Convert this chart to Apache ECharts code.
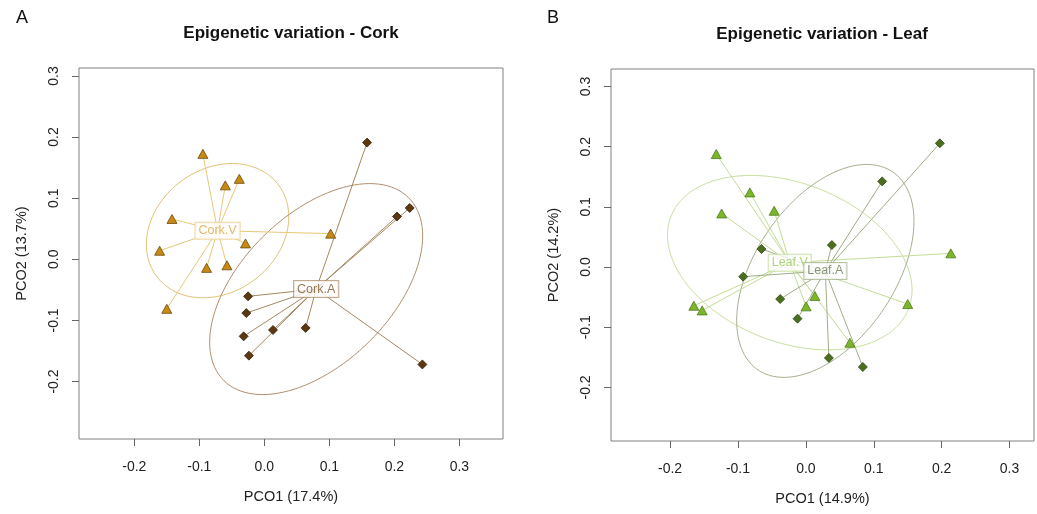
<!DOCTYPE html>
<html><head><meta charset="utf-8">
<script src="https://cdn.jsdelivr.net/npm/echarts@6/dist/echarts.min.js"></script>
<style>html,body{margin:0;padding:0;background:#fff}#c{width:1037px;height:514px}</style>
</head><body><div id="c"></div>
<script>
// ---- data ----
const tickValues = [-0.2, -0.1, 0.0, 0.1, 0.2, 0.3];
const panelTitles = ['Epigenetic variation - Cork', 'Epigenetic variation - Leaf'];
const panelLetters = ['A', 'B'];
const xNames = ['PCO1 (17.4%)', 'PCO1 (14.9%)'];
const yNames = ['PCO2 (13.7%)', 'PCO2 (14.2%)'];

const corkV_x = [-0.0945, -0.060, -0.0385, -0.142, -0.161, -0.029, -0.0888, -0.0575, -0.150, 0.102];
const corkV_y = [0.1725, 0.121, 0.1316, 0.066, 0.014, 0.026, -0.014, -0.0098, -0.081, 0.042];
const corkA_x = [0.158, 0.2235, 0.204, -0.025, -0.0277, -0.0318, 0.0133, 0.0635, -0.0237, 0.243];
const corkA_y = [0.191, 0.084, 0.070, -0.0606, -0.088, -0.126, -0.1156, -0.1123, -0.1576, -0.172];
const leafV_x = [-0.132, -0.0825, -0.124, -0.0467, 0.2135, -0.165, -0.1527, 0.0133, 0.0004, 0.150, 0.0648];
const leafV_y = [0.1877, 0.124, 0.089, 0.0935, 0.0227, -0.0643, -0.072, -0.048, -0.0653, -0.0615, -0.1257];
const leafA_x = [0.1973, 0.1124, 0.0383, -0.0654, -0.0923, -0.0378, -0.0123, 0.0339, 0.0839];
const leafA_y = [0.2055, 0.1423, 0.0365, 0.0299, -0.016, -0.0532, -0.0858, -0.151, -0.166];

// ---- styling ----
const FONT = '"Liberation Sans", Arial, sans-serif';
const groups = [
  {name:'Cork.V', panel:0, xs:corkV_x, ys:corkV_y, symbol:'triangle', size:[10,9], fill:'#C98A12', border:'#6B4A0A', line:'#E8C878', ell:'#E2C275', text:'#D9A843', box:'#E8CD8E'},
  {name:'Cork.A', panel:0, xs:corkA_x, ys:corkA_y, symbol:'diamond', size:[9,9], fill:'#5C3810', border:'#3A220A', line:'#A58860', ell:'#B09070', text:'#7B5628', box:'#B39270'},
  {name:'Leaf.V', panel:1, xs:leafV_x, ys:leafV_y, symbol:'triangle', size:[10,9], fill:'#7DB52B', border:'#4F7D1C', line:'#C3DD98', ell:'#C8E0A0', text:'#9BCB5C', box:'#C3DD98'},
  {name:'Leaf.A', panel:1, xs:leafA_x, ys:leafA_y, symbol:'diamond', size:[9,9], fill:'#4B6F1F', border:'#2F4A12', line:'#A1AD87', ell:'#A7B08F', text:'#6C7C55', box:'#A6B38E'}
];

const grids = [
  {left:79, top:68, width:424, height:371},
  {left:611, top:69, width:423, height:372}
];
const xRanges = [[-0.285, 0.367], [-0.287, 0.336]];
const yRanges = [[-0.294, 0.313], [-0.289, 0.329]];

// ---- derived: centroid and 1.5-sd ellipse (as in ade4 s.class) ----
function mean(a){ return a.reduce((s,v)=>s+v,0)/a.length; }
function ellipsePts(xs, ys, k){
  const mx = mean(xs), my = mean(ys), n = xs.length;
  let a=0,b=0,c=0;
  for(let i=0;i<n;i++){ const dx=xs[i]-mx, dy=ys[i]-my; a+=dx*dx; b+=dx*dy; c+=dy*dy; }
  a/=n; b/=n; c/=n;
  const sa = Math.sqrt(a), l21 = b/sa, l22 = Math.sqrt(Math.max(c - l21*l21, 0));
  const pts = [];
  for(let j=0;j<=120;j++){
    const t = 2*Math.PI*j/120, ct=Math.cos(t), st=Math.sin(t);
    pts.push([mx + k*sa*ct, my + k*(l21*ct + l22*st)]);
  }
  return pts;
}

const axisCommon = {
  type:'value', splitLine:{show:false},
  axisLine:{show:false, onZero:false},
  axisTick:{show:true, length:7, inside:false, customValues:tickValues, lineStyle:{color:'#666', width:1}},
  axisLabel:{customValues:tickValues, formatter:v=>v.toFixed(1), color:'#222', fontSize:14, fontFamily:FONT},
  nameLocation:'middle', nameTextStyle:{color:'#222', fontSize:14.5, fontFamily:FONT}
};

const xAxes = [0,1].map(p => Object.assign({}, axisCommon, {
  gridIndex:p, min:xRanges[p][0], max:xRanges[p][1], name:xNames[p], nameGap:50, position:'bottom',
  axisLabel:Object.assign({}, axisCommon.axisLabel, {margin:21})
}));
const yAxes = [0,1].map(p => Object.assign({}, axisCommon, {
  gridIndex:p, min:yRanges[p][0], max:yRanges[p][1], name:yNames[p], nameGap:50, position:'left',
  axisLabel:Object.assign({}, axisCommon.axisLabel, {rotate:90, margin:18})
}));

const series = [];
groups.forEach((g, gi) => {
  const cx = mean(g.xs), cy = mean(g.ys);
  series.push({
    type:'line', xAxisIndex:g.panel, yAxisIndex:g.panel, data:ellipsePts(g.xs, g.ys, 1.5),
    showSymbol:false, symbol:'none', smooth:false, silent:true, z:1,
    lineStyle:{color:g.ell, width:1}
  });
  series.push({
    type:'lines', coordinateSystem:'cartesian2d', xAxisIndex:g.panel, yAxisIndex:g.panel, silent:true, z:2,
    lineStyle:{color:g.line, width:1, opacity:1, curveness:0},
    data:g.xs.map((x,i)=>({coords:[[cx,cy],[x,g.ys[i]]]}))
  });
});
groups.forEach(g => {
  series.push({
    type:'scatter', xAxisIndex:g.panel, yAxisIndex:g.panel, symbol:g.symbol, symbolSize:g.size, z:3, silent:true,
    itemStyle:{color:g.fill, borderColor:g.border, borderWidth:0.8, opacity:1},
    data:g.xs.map((x,i)=>[x, g.ys[i]])
  });
});
groups.forEach(g => {
  const cx = mean(g.xs), cy = mean(g.ys);
  series.push({
    type:'scatter', xAxisIndex:g.panel, yAxisIndex:g.panel, symbol:'circle', symbolSize:0.1, z:5, silent:true,
    itemStyle:{color:'rgba(0,0,0,0)'},
    label:{show:true, position:'inside', formatter:g.name, color:g.text, fontSize:12.5, fontFamily:FONT,
      backgroundColor:'#fff', borderColor:g.box, borderWidth:1, padding:[2,3,1,3]},
    data:[[cx, cy]]
  });
});

const chart = echarts.init(document.getElementById('c'), null, {renderer:'canvas'});
chart.setOption({
  animation:false,
  backgroundColor:'#fff',
  grid:grids.map(gr => Object.assign({show:true, borderColor:'#808080', borderWidth:1, backgroundColor:'transparent', containLabel:false}, gr)),
  xAxis:xAxes,
  yAxis:yAxes,
  series:series,
  graphic:[
    {type:'text', x:291, y:33, style:{text:panelTitles[0], font:'bold 17px '+FONT, fill:'#111', textAlign:'center', textVerticalAlign:'middle'}},
    {type:'text', x:822, y:34, style:{text:panelTitles[1], font:'bold 17px '+FONT, fill:'#111', textAlign:'center', textVerticalAlign:'middle'}},
    {type:'text', x:22, y:18, style:{text:panelLetters[0], font:'18px '+FONT, fill:'#111', textAlign:'center', textVerticalAlign:'middle'}},
    {type:'text', x:553, y:18, style:{text:panelLetters[1], font:'18px '+FONT, fill:'#111', textAlign:'center', textVerticalAlign:'middle'}}
  ]
});
</script></body></html>
